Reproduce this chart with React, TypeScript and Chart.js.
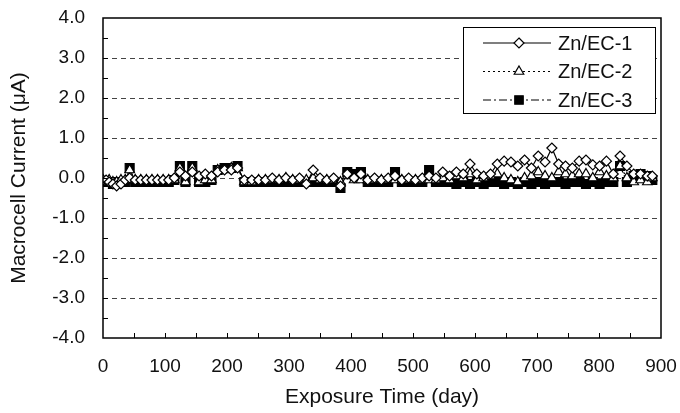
import React, { useEffect, useRef } from "react";
import { Chart, registerables } from "chart.js";
Chart.register(...registerables);

// Exposure time (day)
const days = [
  0, 5, 10, 16, 22, 29, 36,
  43, 52, 61, 70, 79, 88, 97,
  106, 115, 124, 133, 144, 155, 165,
  175, 185, 196, 207, 217, 228, 240,
  251, 262, 273, 284, 295, 306, 317,
  328, 339, 350, 361, 372, 383, 394,
  405, 416, 427, 438, 449, 460, 471,
  482, 493, 504, 515, 526, 537, 548,
  559, 570, 581, 592, 603, 614, 625,
  636, 647, 658, 669, 680, 691, 702,
  713, 724, 735, 746, 757, 768, 779,
  790, 801, 812, 823, 834, 845, 856,
  867, 878, 886,
];

// Macrocell current (µA)
const ec1 = [
  -0.05, -0.05, -0.1, -0.15, -0.2, -0.15, -0.05,
  0.0, -0.05, -0.05, -0.05, -0.05, -0.05, -0.05,
  -0.05, 0.0, 0.15, 0.05, 0.15, 0.05, 0.1,
  0.05, 0.15, 0.2, 0.2, 0.25, -0.05, -0.05,
  -0.05, -0.05, 0.0, -0.05, 0.0, -0.05, 0.0,
  -0.15, 0.2, 0.0, -0.05, 0.0, -0.2, 0.1,
  0.0, 0.1, -0.05, 0.0, -0.05, 0.0, 0.05,
  -0.05, 0.0, -0.05, 0.0, 0.05, 0.0, 0.15,
  0.05, 0.15, 0.1, 0.35, 0.1, 0.05, 0.1,
  0.35, 0.42, 0.4, 0.3, 0.45, 0.25, 0.55,
  0.4, 0.75, 0.35, 0.3, 0.25, 0.42, 0.45,
  0.33, 0.3, 0.42, 0.1, 0.55, 0.3, 0.1,
  0.1, 0.05, 0.05,
];
const ec2 = [
  -0.05, -0.1, -0.05, -0.1, -0.1, -0.05, -0.05,
  0.2, -0.05, -0.05, -0.05, -0.05, -0.05, -0.05,
  -0.05, -0.05, 0.25, -0.1, 0.25, -0.1, -0.05,
  -0.05, 0.2, 0.2, 0.25, 0.25, -0.1, -0.1,
  -0.05, -0.05, -0.05, -0.05, 0.0, -0.05, -0.05,
  -0.05, 0.0, -0.05, -0.05, -0.05, -0.1, 0.05,
  -0.05, -0.05, -0.05, -0.05, -0.05, -0.05, -0.05,
  -0.05, -0.05, -0.05, -0.05, -0.05, -0.05, 0.0,
  -0.05, 0.05, 0.0, 0.1, -0.05, 0.0, 0.05,
  0.1, 0.0, -0.05, -0.1, 0.0, 0.05, 0.15,
  0.05, 0.0, 0.15, 0.1, 0.05, 0.1, 0.1,
  0.0, 0.15, 0.05, 0.0, 0.3, 0.0, -0.1,
  -0.05, -0.1, 0.0,
];
const ec3 = [
  -0.1, -0.1, -0.1, -0.15, -0.1, -0.1, -0.1,
  0.25, -0.1, -0.1, -0.1, -0.1, -0.1, -0.1,
  -0.1, -0.05, 0.3, -0.1, 0.3, -0.1, -0.1,
  -0.05, 0.2, 0.25, 0.25, 0.3, -0.1, -0.1,
  -0.1, -0.1, -0.1, -0.1, -0.1, -0.1, -0.1,
  -0.1, -0.1, -0.1, -0.1, -0.1, -0.25, 0.15,
  0.1, 0.15, -0.1, -0.1, -0.1, -0.1, 0.15,
  -0.1, -0.1, -0.1, -0.1, 0.2, -0.1, -0.1,
  -0.1, -0.15, -0.1, -0.15, -0.1, -0.15, -0.1,
  -0.1, -0.15, -0.1, -0.15, -0.1, -0.15, -0.1,
  -0.15, -0.1, -0.1, -0.15, -0.1, -0.1, -0.15,
  -0.1, -0.15, -0.1, -0.1, 0.3, -0.1, 0.05,
  0.1, 0.05, -0.05,
];

const seriesNames = ["Zn/EC-1", "Zn/EC-2", "Zn/EC-3"];
const xAxisTitle = "Exposure Time (day)";
const yAxisTitle = "Macrocell Current (\u03bcA)";
const xRange = [0, 900];
const yRange = [-4, 4];

const FONT = "'Liberation Sans', Arial, sans-serif";

const styles = [
  { dash: [] as number[], point: "rectRot", radius: 5, fill: "#fff" },
  { dash: [2, 3], point: "triangle", radius: 5.5, fill: "#fff" },
  { dash: [8, 3, 2, 3], point: "rect", radius: 6.3, fill: "#000" },
];

function drawMarker(ctx: CanvasRenderingContext2D, kind: string, x: number, y: number, r: number, fill: string) {
  ctx.beginPath();
  if (kind === "rectRot") {
    ctx.moveTo(x, y - r);
    ctx.lineTo(x + r, y);
    ctx.lineTo(x, y + r);
    ctx.lineTo(x - r, y);
    ctx.closePath();
  } else if (kind === "triangle") {
    const a = (2 * Math.PI) / 3;
    ctx.moveTo(x, y - r);
    ctx.lineTo(x + Math.sin(a) * r, y - Math.cos(a) * r);
    ctx.lineTo(x + Math.sin(2 * a) * r, y - Math.cos(2 * a) * r);
    ctx.closePath();
  } else {
    const s = Math.SQRT1_2 * r;
    ctx.rect(x - s, y - s, 2 * s, 2 * s);
  }
  ctx.setLineDash([]);
  ctx.fillStyle = fill;
  ctx.fill();
  ctx.strokeStyle = "#000";
  ctx.lineWidth = 1.2;
  ctx.stroke();
}

const framePlugin = {
  id: "frameTicks",
  afterDatasetsDraw(chart: any) {
    const { ctx, chartArea, scales } = chart;
    const { left, right, top, bottom } = chartArea;
    const xs = scales.x;
    const ys = scales.y;
    ctx.save();
    ctx.setLineDash([]);
    ctx.strokeStyle = "#000";
    ctx.lineWidth = 1;
    for (let v = yRange[0] + 0.5; v < yRange[1]; v += 0.5) {
      const py = Math.round(ys.getPixelForValue(v)) + 0.5;
      ctx.beginPath();
      ctx.moveTo(left, py);
      ctx.lineTo(left + 5, py);
      ctx.stroke();
    }
    for (let v = xRange[0] + 50; v < xRange[1]; v += 50) {
      const px = Math.round(xs.getPixelForValue(v)) + 0.5;
      ctx.beginPath();
      ctx.moveTo(px, bottom);
      ctx.lineTo(px, bottom - 5);
      ctx.stroke();
    }
    ctx.lineWidth = 1.5;
    ctx.strokeRect(left, top, right - left, bottom - top);
    ctx.restore();
  },
  afterDraw(chart: any) {
    const { ctx, chartArea } = chart;
    const bw = 192;
    const bh = 86;
    const bx = chartArea.right - 6 - bw;
    const by = chartArea.top + 9;
    ctx.save();
    ctx.setLineDash([]);
    ctx.fillStyle = "#fff";
    ctx.fillRect(bx, by, bw, bh);
    ctx.strokeStyle = "#000";
    ctx.lineWidth = 1;
    ctx.strokeRect(bx + 0.5, by + 0.5, bw, bh);
    seriesNames.forEach((name, i) => {
      const st = styles[i];
      const ry = by + 16 + i * 28.5;
      ctx.beginPath();
      ctx.setLineDash(st.dash);
      ctx.strokeStyle = "#000";
      ctx.lineWidth = 1.2;
      ctx.moveTo(bx + 20, ry);
      ctx.lineTo(bx + 88, ry);
      ctx.stroke();
      drawMarker(ctx, st.point, bx + 56, ry, st.radius - (i === 2 ? 0.3 : 0), st.fill);
      ctx.fillStyle = "#111";
      ctx.font = `20px ${FONT}`;
      ctx.textAlign = "left";
      ctx.textBaseline = "middle";
      ctx.fillText(name, bx + 95, ry + 1);
    });
    ctx.restore();
  },
};

export default function App() {
  const ref = useRef<HTMLCanvasElement | null>(null);
  useEffect(() => {
    document.body.style.margin = "0";
    const canvas = ref.current;
    if (!canvas) return;
    const seriesData = [ec1, ec2, ec3];
    const chart = new Chart(canvas, {
      type: "line",
      data: {
        datasets: seriesNames.map((name, i) => ({
          label: name,
          data: days.map((d, j) => ({ x: d, y: seriesData[i][j] })),
          borderColor: "#000",
          borderWidth: 1.2,
          borderDash: styles[i].dash,
          pointStyle: styles[i].point as any,
          pointRadius: styles[i].radius,
          pointBackgroundColor: styles[i].fill,
          pointBorderColor: "#000",
          pointBorderWidth: 1.2,
          fill: false,
          tension: 0,
        })),
      },
      options: {
        animation: false,
        responsive: false,
        devicePixelRatio: 1,
        layout: { padding: { top: 18, right: 19, bottom: 0, left: 0 } },
        plugins: { legend: { display: false }, tooltip: { enabled: false } },
        scales: {
          x: {
            type: "linear",
            min: xRange[0],
            max: xRange[1],
            afterFit: (s: any) => { s.height = 75; },
            ticks: {
              stepSize: 100,
              color: "#111",
              font: { family: FONT, size: 19 },
              padding: 0,
              maxRotation: 0,
              callback: (v: any) => String(v),
            },
            grid: {
              display: true,
              drawOnChartArea: false,
              drawTicks: true,
              tickLength: 17,
              tickColor: "rgba(0,0,0,0)",
            },
            border: { display: false },
            title: {
              display: true,
              text: xAxisTitle,
              color: "#111",
              font: { family: FONT, size: 21 },
              padding: { top: 0, bottom: 3 },
            },
          },
          y: {
            type: "linear",
            min: yRange[0],
            max: yRange[1],
            afterFit: (s: any) => { s.width = 103; },
            ticks: {
              stepSize: 1,
              color: "#111",
              font: { family: FONT, size: 19 },
              padding: 0,
              callback: (v: any) => Number(v).toFixed(1),
            },
            grid: {
              drawTicks: true,
              tickLength: 18,
              tickColor: "rgba(0,0,0,0)",
              color: (c: any) => (c.tick && Math.abs(c.tick.value) === 4 ? "rgba(0,0,0,0)" : "#444"),
              lineWidth: 1,
            },
            border: { display: false, dash: [5, 4] },
            title: {
              display: true,
              text: yAxisTitle,
              color: "#111",
              font: { family: FONT, size: 21 },
              padding: { top: 7, bottom: 0 },
            },
          },
        },
      },
      plugins: [framePlugin],
    });
    return () => chart.destroy();
  }, []);
  return (
    <div style={{ width: 680, height: 413 }}>
      <canvas ref={ref} width={680} height={413} style={{ display: "block" }} />
    </div>
  );
}
